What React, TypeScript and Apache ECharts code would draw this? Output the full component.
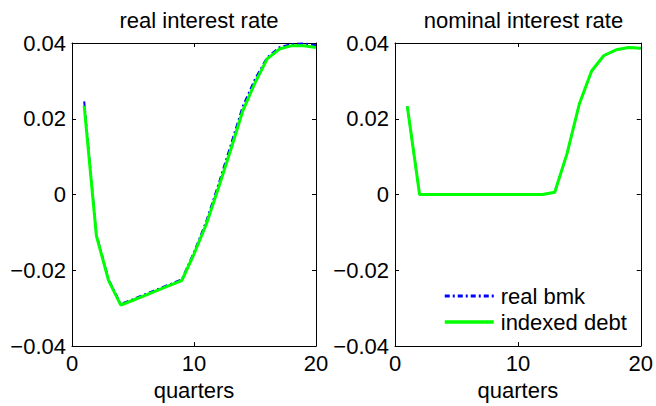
import React, { useEffect, useRef } from "react";
import * as echarts from "echarts";

// Quarters after the shock
const quarters = Array.from({ length: 20 }, (_, i) => i + 1);

// Real interest rate responses
const realBmkReal = [
  0.0246, -0.0105, -0.0224, -0.0289, -0.0276, -0.0263, -0.025, -0.0237, -0.0224, -0.0152,
  -0.0071, 0.0027, 0.013, 0.0233, 0.0305, 0.0362, 0.0389, 0.0397, 0.0399, 0.0394,
];
const indexedReal = [
  0.0234, -0.0109, -0.0227, -0.0292, -0.0279, -0.0266, -0.0253, -0.024, -0.0227, -0.0157,
  -0.0079, 0.0017, 0.0117, 0.0221, 0.0295, 0.0358, 0.0384, 0.0393, 0.0393, 0.0388,
];

// Nominal interest rate responses
const realBmkNominal = [
  0.0233, 0, 0, 0, 0, 0, 0, 0, 0, 0, 0, 0, 0.0006, 0.0108, 0.0239, 0.0326, 0.0367, 0.0382,
  0.0388, 0.0386,
];
const indexedNominal = [
  0.0233, 0, 0, 0, 0, 0, 0, 0, 0, 0, 0, 0, 0.0006, 0.0108, 0.0239, 0.0326, 0.0367, 0.0382,
  0.0388, 0.0386,
];

const panelTitles = ["real interest rate", "nominal interest rate"];
const seriesNames = ["real bmk", "indexed debt"];
const xLabel = "quarters";

const FONT = "'Liberation Sans', Arial, Helvetica, sans-serif";
const FS = 22;

const fmtY = (v: number) => {
  if (Math.abs(v) < 1e-9) return "0";
  return v.toFixed(2).replace("-", "\u2212");
};

export default function App() {
  const ref = useRef<HTMLDivElement>(null);

  useEffect(() => {
    if (!ref.current) return;
    const chart = echarts.init(ref.current, undefined, { renderer: "svg" });

    const grids = [
      { left: 72, top: 43, width: 244, height: 307 },
      { left: 395, top: 43, width: 247, height: 307 },
    ];

    const axisLine = { show: true, onZero: false, lineStyle: { color: "#000", width: 1 } };
    const tickStyle = { show: true, inside: true, length: 4, lineStyle: { color: "#000" } };
    const labelStyle = { color: "#000", fontFamily: FONT, fontSize: FS };

    const xAxes: any[] = [];
    const yAxes: any[] = [];
    grids.forEach((_, g) => {
      xAxes.push({
        type: "value",
        gridIndex: g,
        position: "bottom",
        min: 0,
        max: 20,
        interval: 10,
        axisLine,
        axisTick: tickStyle,
        splitLine: { show: false },
        axisLabel: { ...labelStyle, margin: 6 },
        name: xLabel,
        nameLocation: "middle",
        nameGap: 30,
        nameTextStyle: { ...labelStyle },
      });
      xAxes.push({
        type: "value",
        gridIndex: g,
        position: "top",
        min: 0,
        max: 20,
        interval: 10,
        axisLine,
        axisTick: tickStyle,
        splitLine: { show: false },
        axisLabel: { show: false },
      });
      yAxes.push({
        type: "value",
        gridIndex: g,
        position: "left",
        min: -0.04,
        max: 0.04,
        interval: 0.02,
        axisLine,
        axisTick: tickStyle,
        splitLine: { show: false },
        axisLabel: { ...labelStyle, margin: 6, formatter: fmtY },
      });
      yAxes.push({
        type: "value",
        gridIndex: g,
        position: "right",
        min: -0.04,
        max: 0.04,
        interval: 0.02,
        axisLine,
        axisTick: tickStyle,
        splitLine: { show: false },
        axisLabel: { show: false },
      });
    });

    const pairs = (ys: number[]) => quarters.map((q, i) => [q, ys[i]]);
    const blueLine = { color: "#0000ff", width: 2, type: [6, 3, 2, 3] as any };
    const greenLine = { color: "#00ff00", width: 3, type: "solid" as const };

    const series: any[] = [
      {
        name: seriesNames[0],
        type: "line",
        xAxisIndex: 0,
        yAxisIndex: 0,
        data: pairs(realBmkReal),
        symbol: "none",
        itemStyle: { color: "#0000ff" },
        lineStyle: blueLine,
      },
      {
        name: seriesNames[1],
        type: "line",
        xAxisIndex: 0,
        yAxisIndex: 0,
        data: pairs(indexedReal),
        symbol: "none",
        itemStyle: { color: "#00ff00" },
        lineStyle: greenLine,
      },
      {
        name: seriesNames[0],
        type: "line",
        xAxisIndex: 2,
        yAxisIndex: 2,
        data: pairs(realBmkNominal),
        symbol: "none",
        itemStyle: { color: "#0000ff" },
        lineStyle: blueLine,
      },
      {
        name: seriesNames[1],
        type: "line",
        xAxisIndex: 2,
        yAxisIndex: 2,
        data: pairs(indexedNominal),
        symbol: "none",
        itemStyle: { color: "#00ff00" },
        lineStyle: greenLine,
      },
    ];

    chart.setOption({
      animation: false,
      backgroundColor: "#fff",
      title: panelTitles.map((t, g) => ({
        text: t,
        left: grids[g].left + grids[g].width / 2,
        top: 4,
        textAlign: "center",
        textStyle: { color: "#000", fontFamily: FONT, fontSize: FS, fontWeight: "normal" },
      })),
      grid: grids,
      xAxis: xAxes,
      yAxis: yAxes,
      legend: {
        data: [
          { name: seriesNames[0], lineStyle: { width: 3, type: [5, 3, 2, 3] } },
          { name: seriesNames[1], lineStyle: { width: 3.5 } },
        ],
        orient: "vertical",
        left: 443,
        top: 285,
        itemWidth: 49,
        itemHeight: 12,
        itemGap: 4,
        padding: 0,
        itemStyle: { opacity: 0 },
        textStyle: { color: "#000", fontFamily: FONT, fontSize: FS, padding: [0, 0, 0, 2] },
      },
      series,
    });

    return () => chart.dispose();
  }, []);

  return (
    <div
      ref={ref}
      style={{ position: "fixed", left: 0, top: 0, width: 656, height: 406, background: "#fff" }}
    />
  );
}
